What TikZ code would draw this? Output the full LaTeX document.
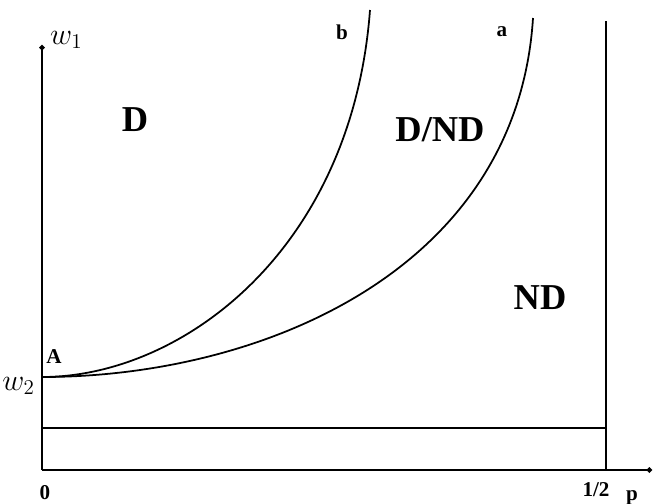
\documentclass[tikz,border=0pt]{standalone}
\usepackage{fontspec}
\setmainfont{Liberation Serif}
\usepackage{tikz}
\usetikzlibrary{arrows.meta,positioning}

\begin{document}
\begin{tikzpicture}[
    x=2cm, y=2cm,
    axisline/.style={line width=1pt, -{Circle[length=3pt]}},
    border/.style={line width=1pt},
    curve/.style={line width=1pt},
    region/.style={font=\huge\bfseries},
    tick/.style={font=\large\bfseries},
]
\useasboundingbox (-0.42,-0.33) rectangle (6.11,4.70);
% Axes
\coordinate (O) at (0,0);
\coordinate (Ytop) at (0,4.25);
\coordinate (Xend) at (6.10,0);
\draw[axisline] (O) -- (Ytop);
\draw[axisline] (O) -- (Xend);
% Bounds
\coordinate (Htop) at (5.64,4.49);
\coordinate (Hbot) at (5.64,0);
\coordinate (Lleft) at (0,0.42);
\coordinate (Lright) at (5.64,0.42);
\draw[border] (Hbot) -- (Htop);
\draw[border] (Lleft) -- (Lright);
% Curves
\coordinate (A) at (0,0.93);
\coordinate (Bend) at (3.28,4.60);
\coordinate (Aend) at (4.91,4.52);
\draw[curve] (A) .. controls (1.4,0.93) and (3.1,2.2) .. (Bend);
\draw[curve] (A) .. controls (2.2,0.93) and (4.75,2.0) .. (Aend);
% Labels
\node[tick, font=\LARGE, anchor=west] (w1) at (0.02,4.30) {$w_1$};
\node[tick, font=\LARGE, anchor=east] (w2) at (-0.01,0.84) {$w_2$};
\node[tick] (lblA) at (0.12,1.13) {A};
\node[tick] (zero) at (0.03,-0.23) {0};
\node[tick] (half) at (5.54,-0.20) {1/2};
\node[tick] (p) at (5.90,-0.28) {p};
\node[tick] (lblb) at (3.00,4.38) {b};
\node[tick] (lbla) at (4.60,4.38) {a};
\node[region] (D) at (0.93,3.50) {D};
\node[region] (DND) at (3.98,3.40) {D/ND};
\node[region] (ND) at (4.98,1.72) {ND};
\end{tikzpicture}
\end{document}
